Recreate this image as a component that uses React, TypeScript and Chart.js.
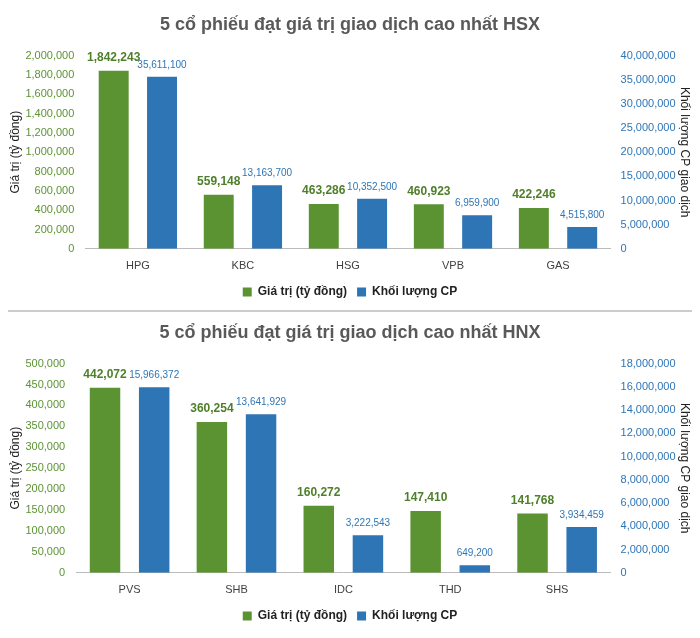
import React, { useEffect, useRef } from "react";
import { Chart, registerables } from "chart.js";
Chart.register(...registerables);

const hsxCategories = ["HPG", "KBC", "HSG", "VPB", "GAS"];
const hsxValue = [1842243, 559148, 463286, 460923, 422246];
const hsxVolume = [35611100, 13163700, 10352500, 6959900, 4515800];

const hnxCategories = ["PVS", "SHB", "IDC", "THD", "SHS"];
const hnxValue = [442072, 360254, 160272, 147410, 141768];
const hnxVolume = [15966372, 13641929, 3222543, 649200, 3934459];

const GREEN = "#5B9332";
const BLUE = "#2E75B6";
const fmt = (v: number) => v.toLocaleString("en-US");

const labelPlugin = {
  id: "lbl",
  afterDatasetsDraw(chart: any) {
    const ctx = chart.ctx;
    chart.data.datasets.forEach((ds: any, i: number) => {
      const meta = chart.getDatasetMeta(i);
      meta.data.forEach((bar: any, j: number) => {
        ctx.save();
        ctx.textAlign = "center";
        ctx.textBaseline = "bottom";
        if (i === 0) {
          ctx.fillStyle = "#4E7F2A";
          ctx.font = "bold 12px Arial, 'Liberation Sans'";
        } else {
          ctx.fillStyle = BLUE;
          ctx.font = "10px Arial, 'Liberation Sans'";
        }
        ctx.fillText(fmt(ds.data[j]), bar.x, bar.y - 7);
        ctx.restore();
      });
    });
  },
};

function BarChart(props: any) {
  const ref = useRef<HTMLCanvasElement>(null);
  useEffect(() => {
    const c = new Chart(ref.current!, {
      type: "bar",
      data: {
        labels: props.categories,
        datasets: [
          { label: "Giá trị (tỷ đồng)", data: props.value, backgroundColor: GREEN, yAxisID: "y", barPercentage: 0.62, categoryPercentage: 0.92 },
          { label: "Khối lượng CP", data: props.volume, backgroundColor: BLUE, yAxisID: "y1", barPercentage: 0.62, categoryPercentage: 0.92 },
        ],
      },
      options: {
        animation: false,
        responsive: false,
        layout: { padding: { left: 0, right: 0, top: 0, bottom: 0 } },
        plugins: {
          title: { display: true, text: props.title, color: "#595959", font: { size: 18, weight: "bold", family: "Arial, 'Liberation Sans'" }, padding: { top: 6, bottom: 20 } },
          legend: {
            position: "bottom",
            labels: { boxWidth: 9, boxHeight: 9, color: "#222", font: { size: 12, weight: "bold", family: "Arial, 'Liberation Sans'" } },
          },
          tooltip: { enabled: false },
        },
        scales: {
          x: { grid: { display: false }, border: { color: "#bbb" }, ticks: { color: "#404040", font: { size: 11, family: "Arial" } } },
          y: {
            position: "left", min: 0, max: props.lmax, grid: { display: false }, border: { display: false },
            ticks: { stepSize: props.lstep, color: GREEN, callback: (v: any) => fmt(v), font: { size: 11, family: "Arial" } },
            title: { display: true, text: "Giá trị (tỷ đồng)", color: "#222", font: { size: 12, family: "Arial" }, padding: 0 },
          },
          y1: {
            position: "right", min: 0, max: props.rmax, grid: { display: false }, border: { display: false },
            ticks: { stepSize: props.rstep, color: BLUE, callback: (v: any) => fmt(v), font: { size: 11, family: "Arial" }, padding: 2 },
            title: { display: true, text: "Khối lượng CP giao dịch", color: "#222", font: { size: 12, family: "Arial" }, padding: 0 },
          },
        },
      },
      plugins: [labelPlugin],
    } as any);
    return () => c.destroy();
  }, []);
  return <canvas ref={ref} width={684} height={props.height} style={{ display: "block" }} />;
}

export default function App() {
  return (
    <div style={{ width: 684, background: "#fff" }}>
      <BarChart title="5 cổ phiếu đạt giá trị giao dịch cao nhất HSX" categories={hsxCategories} value={hsxValue} volume={hsxVolume}
        lmax={2000000} lstep={200000} rmax={40000000} rstep={5000000} height={300} />
      <div style={{ borderTop: "2px solid #ccc", margin: "2px 0 4px" }} />
      <BarChart title="5 cổ phiếu đạt giá trị giao dịch cao nhất HNX" categories={hnxCategories} value={hnxValue} volume={hnxVolume}
        lmax={500000} lstep={50000} rmax={18000000} rstep={2000000} height={316} />
    </div>
  );
}
